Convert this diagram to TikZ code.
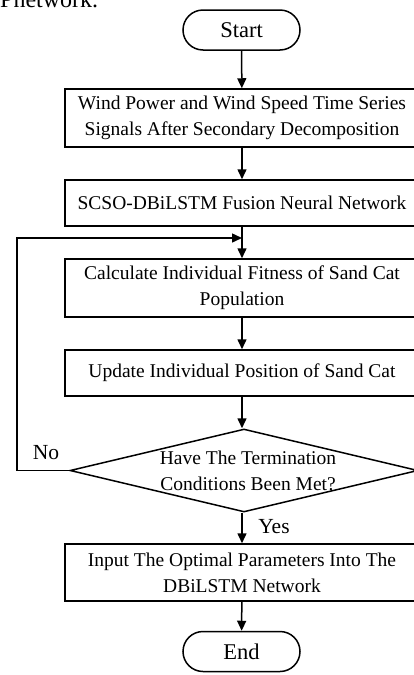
\documentclass[tikz,border=0pt]{standalone}
\usepackage{fontspec}
\setmainfont{Liberation Serif}
\usetikzlibrary{arrows.meta,shapes.geometric}
\begin{document}
\begin{tikzpicture}[x=1pt,y=-1pt,
  every node/.style={font=\fontsize{19.5}{26}\selectfont},
  term/.style={draw,line width=1.5pt,rounded corners=20pt,minimum width=117pt,minimum height=40pt,inner sep=0pt,font=\fontsize{22.5}{26}\selectfont},
  proc/.style={draw,line width=1.5pt,minimum width=354pt,inner sep=0pt,align=center},
  arr/.style={line width=1.5pt,-{Triangle[length=10pt,width=9pt]}},
  lbl/.style={inner sep=0pt,font=\fontsize{21.5}{26}\selectfont}
]
\useasboundingbox (0,0) rectangle (414,675);
\node[inner sep=0pt,anchor=base west,font=\fontsize{24}{28}\selectfont] (cap) at (0,7) {Pnetwork.};
\node[term] (start) at (241.5,30) {Start};
\node[proc,minimum height=58pt] (b1) at (242,118) {Wind Power and Wind Speed Time Series\\Signals After Secondary Decomposition};
\node[proc,minimum height=46pt] (b2) at (242,203) {SCSO-DBiLSTM Fusion Neural Network};
\node[proc,minimum height=58pt] (b3) at (242,288) {Calculate Individual Fitness of Sand Cat\\Population};
\node[proc,minimum height=46pt] (b4) at (242,373) {Update Individual Position of Sand Cat};
\node[draw,diamond,line width=1.5pt,minimum width=348pt,minimum height=83pt,inner sep=0pt] (dec) at (244,470.5) {};
\node[align=center,inner sep=0pt] (dect) at (248,471) {Have The Termination\\Conditions Been Met?};
\node[proc,minimum height=57pt] (b5) at (242,572.5) {Input The Optimal Parameters Into The\\DBiLSTM Network};
\node[term] (end) at (241.5,651.5) {End};
\coordinate (m) at (242,238);
\coordinate (lc) at (17,470.5);
\node[lbl] (no) at (46,453) {No};
\node[lbl] (yes) at (274,527) {Yes};
\draw[arr] (start) -- (b1);
\draw[arr] (b1) -- (b2);
\draw[arr] (b2) -- (b3);
\draw[arr] (b3) -- (b4);
\draw[arr] (b4.south) -- (b4.south |- dec.north);
\draw[arr] (b5.north |- dec.south) -- (b5);
\draw[arr] (b5) -- (end);
\draw[arr] (dec.west) -- (lc) |- (m);
\end{tikzpicture}
\end{document}
